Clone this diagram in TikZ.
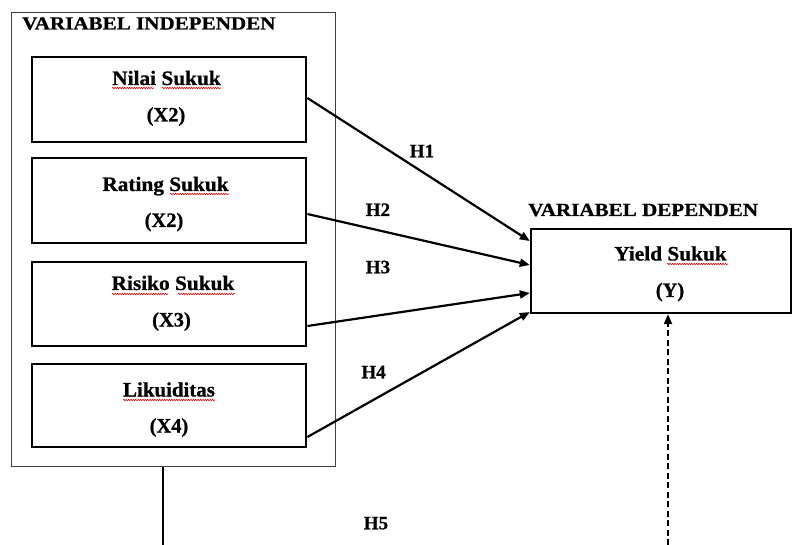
\documentclass[tikz,border=0pt]{standalone}
\usepackage{fontspec}
\setmainfont{Liberation Serif}[BoldFeatures={FakeBold=0.8}]
\usetikzlibrary{arrows.meta,decorations.pathmorphing}
\begin{document}
\begin{tikzpicture}[x=1pt,y=-1pt,
  outerbox/.style={draw=black!75, line width=1pt, minimum width=324pt, minimum height=453pt, inner sep=0pt},
  ivbox/.style={draw, line width=2.8pt, minimum width=274pt, inner sep=0pt},
  dvbox/.style={draw, line width=2.4pt, minimum width=260pt, minimum height=84pt, inner sep=0pt},
  head/.style={font=\fontsize{18.5}{21}\selectfont\bfseries, anchor=base west, inner sep=0pt},
  lbl/.style={font=\fontsize{20.5}{23}\selectfont\bfseries, anchor=base, inner sep=0pt},
  hyp/.style={font=\fontsize{19}{22}\selectfont\bfseries, anchor=base, inner sep=0pt},
  tip/.style={-{Triangle[length=10pt,width=8pt]}},
  link/.style={line width=2.2pt, tip},
  spell/.style={draw=red!85!black, line width=0.6pt, decorate, decoration={snake, amplitude=0.7pt, segment length=2.4pt}}
]
\useasboundingbox (0,0) rectangle (792,545);

% outer frame and title
\node[outerbox] (iv) at (173,239.5) {};
\node[head] (tiv) at (22,29.5) {\scalebox{1.14}[1]{VARIABEL INDEPENDEN}};

% independent boxes
\node[ivbox, minimum height=85pt] (x1) at (169,99.5) {};
\node[ivbox, minimum height=85pt] (x2) at (169,200.5) {};
\node[ivbox, minimum height=84pt] (x3) at (169,304) {};
\node[ivbox, minimum height=83pt] (x4) at (169,405.5) {};

\node[lbl] (x1a) at (166.5,85) {\scalebox{1.04}[1]{Nilai Sukuk}};
\node[lbl] (x1b) at (166,121.5) {(X2)};
\node[lbl] (x2a) at (165.5,191) {\scalebox{1.04}[1]{Rating Sukuk}};
\node[lbl] (x2b) at (164,227) {(X2)};
\node[lbl] (x3a) at (173,290) {\scalebox{1.04}[1]{Risiko Sukuk}};
\node[lbl] (x3b) at (171.5,326.5) {(X3)};
\node[lbl] (x4a) at (169,396.5) {\scalebox{1.02}[1]{Likuiditas}};
\node[lbl] (x4b) at (169,432.5) {(X4)};

% dependent
\node[head] (tdv) at (528,216) {\scalebox{1.14}[1]{VARIABEL DEPENDEN}};
\node[dvbox] (y) at (661,271) {};
\node[lbl] (ya) at (670.5,260.5) {\scalebox{1.04}[1]{Yield Sukuk}};
\node[lbl] (yb) at (670,297) {(Y)};

% spell-check underlines
\draw[spell] (112,88) -- (154,88);
\draw[spell] (162,88) -- (221,88);
\draw[spell] (170,194) -- (229,194);
\draw[spell] (112,294) -- (168,294);
\draw[spell] (178,294) -- (235,294);
\draw[spell] (123,400) -- (215,400);
\draw[spell] (667,264) -- (728,264);

% hypotheses arrows
\draw[link] ([yshift=1.5pt]x1.east) -- ([yshift=30pt]y.west);
\draw[link] ([yshift=-13.5pt]x2.east) -- ([yshift=6pt]y.west);
\draw[link] ([yshift=-22pt]x3.east) -- ([yshift=-22pt]y.west);
\draw[link] ([yshift=-31.5pt]x4.east) -- ([yshift=-41pt]y.west);

\node[hyp] (h1) at (422,157.3) {H1};
\node[hyp] (h2) at (378,216) {H2};
\node[hyp] (h3) at (378,273.3) {H3};
\node[hyp] (h4) at (373.5,378.3) {H4};
\node[hyp] (h5) at (376,529.3) {H5};

% H5 path
\coordinate (b1) at (163,545);
\coordinate (b2) at (668,545);
\draw[line width=2.2pt] ([xshift=-10pt]iv.south) -- (b1);
\draw[line width=2pt, dash pattern=on 6pt off 3.5pt, tip] (b2) -- ([xshift=7pt]y.south);
\end{tikzpicture}
\end{document}
